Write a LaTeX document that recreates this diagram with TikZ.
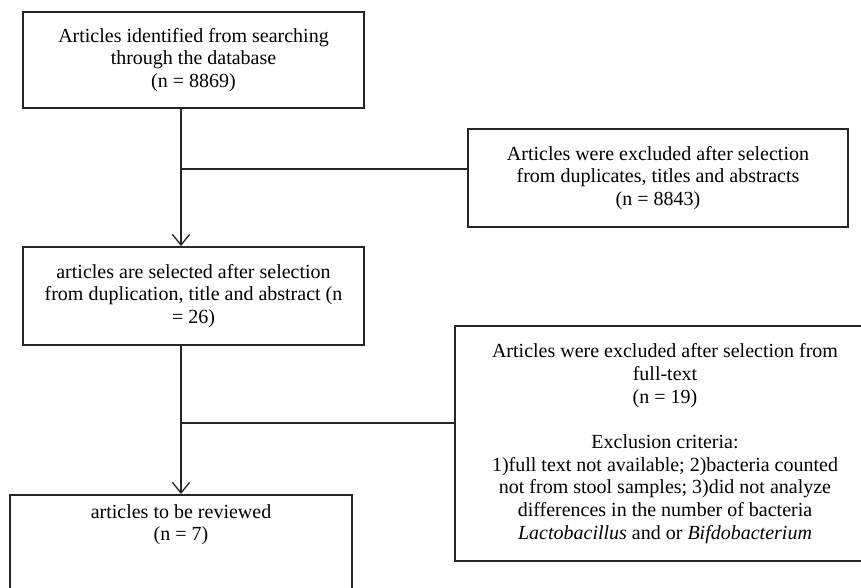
\documentclass[tikz,border=0pt]{standalone}
\usepackage{fontspec}
\setmainfont{Liberation Serif}
\usetikzlibrary{arrows.meta, shapes}

\begin{document}
\begin{tikzpicture}[x=0.75pt, y=-0.75pt]
\useasboundingbox (0,0) rectangle (861,588);
\clip (0,0) rectangle (861,588);
\begin{scope}[every node/.style={rectangle, draw=black!85, line width=1.4pt, align=center, inner sep=0pt, font=\fontsize{15}{17}\selectfont}]
  \node[minimum width=255.75pt, minimum height=72pt] (ident) at (193.5,60) {Articles identified from searching\\through the database\\(n = 8869)};
  \node[minimum width=285pt, minimum height=73.5pt] (excl1) at (658,178) {Articles were excluded after selection\\from duplicates, titles and abstracts\\(n = 8843)};
  \node[minimum width=255.75pt, minimum height=73.5pt] (sel) at (193.5,296) {articles are selected after selection\\from duplication, title and abstract (n\\= 26)};
  \node[minimum width=315pt, minimum height=176.25pt] (excl2) at (665,443.5) {Articles were excluded after selection from\\full-text\\(n = 19)\\[17pt]Exclusion criteria:\\1)full text not available; 2)bacteria counted\\not from stool samples; 3)did not analyze\\differences in the number of bacteria\\\textit{Lactobacillus} and or \textit{Bifdobacterium}};
  \node[minimum width=256.5pt, inner ysep=7pt, text depth=90pt, anchor=north] (rev) at (181,494) {articles to be reviewed\\(n = 7)};
\end{scope}

\coordinate (a1) at (ident.south -| rev.north);
\coordinate (a2) at (sel.south -| rev.north);
\coordinate (j1) at (181,169);
\coordinate (j2) at (181,423);

\begin{scope}[>={Straight Barb[length=8pt,width=13pt]},
              every edge/.style={draw=black!85, line width=1pt}]
    \path[->] (a1) edge (sel.north -| rev.north);
    \path[->] (a2) edge (rev.north);
    \path (j1) edge (j1 -| excl1.west);
    \path (j2) edge (j2 -| excl2.west);
\end{scope}

\end{tikzpicture}
\end{document}
